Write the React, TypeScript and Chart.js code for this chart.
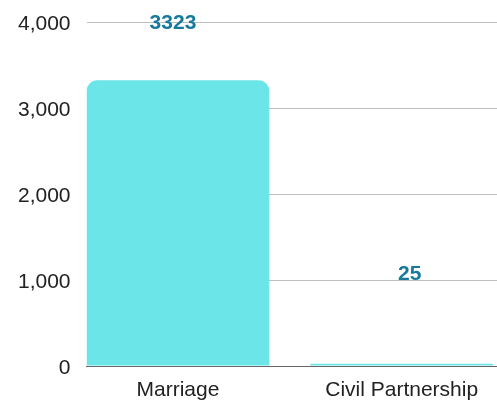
import React, { useEffect, useRef } from "react";
import { Chart, registerables } from "chart.js";

Chart.register(...registerables);

const categories = ["Marriage", "Civil Partnership"];
const counts = [3323, 25];
const yTicks = [0, 1000, 2000, 3000, 4000];

const labelPlugin = {
  id: "barValueLabels",
  afterDatasetsDraw(chart: any, _args: any, opts: any) {
    const ctx = chart.ctx;
    const meta = chart.getDatasetMeta(0);
    ctx.save();
    ctx.font = "bold 21px 'Liberation Sans', Arial, sans-serif";
    ctx.fillStyle = "#17799b";
    ctx.textAlign = "center";
    ctx.textBaseline = "middle";
    meta.data.forEach((bar: any, i: number) => {
      const dy = opts.dy[i] ?? 0;
      const dx = opts.dx[i] ?? 0;
      ctx.fillText(String(counts[i]), bar.x + dx, bar.y - dy);
    });
    ctx.restore();
  },
};

export default function App() {
  const ref = useRef<HTMLCanvasElement | null>(null);
  useEffect(() => {
    if (!ref.current) return;
    const chart = new Chart(ref.current, {
      type: "bar",
      data: {
        datasets: [
          {
            data: counts.map((v, i) => ({ x: i, y: v })),
            backgroundColor: "#6ce5e8",
            borderRadius: { topLeft: 11, topRight: 11, bottomLeft: 0, bottomRight: 0 },
            borderSkipped: "start",
            categoryPercentage: 0.9,
            barPercentage: 0.908,
          } as any,
        ],
      },
      options: {
        animation: false,
        responsive: false,
        maintainAspectRatio: false,
        layout: { padding: { left: 2, right: 0, top: 22, bottom: 0 } },
        plugins: {
          legend: { display: false },
          tooltip: { enabled: false },
          barValueLabels: { dy: [57.5, 89.5], dx: [-5, 8] },
        } as any,
        scales: {
          x: {
            type: "linear",
            offset: false,
            bounds: "data",
            grace: 0,
            min: -0.4085,
            max: 1.426,
            afterDataLimits: (scale: any) => {
              scale.min = -0.4085;
              scale.max = 1.426;
            },
            afterBuildTicks: (scale: any) => {
              scale.ticks = categories.map((_, i) => ({ value: i }));
            },
            afterFit: (scale: any) => {
              scale.height = 34;
              scale.paddingLeft = 0;
              scale.paddingRight = 0;
            },
            ticks: {
              autoSkip: false,
              maxRotation: 0,
              minRotation: 0,
              padding: 12,
              color: "#222",
              font: { family: "'Liberation Sans', Arial, sans-serif", size: 21 },
              callback: (v: any) => categories[Math.round(Number(v))] ?? "",
            },
            grid: { display: false, drawTicks: false, offset: false },
            border: { display: true, color: "#666", width: 1 },
          } as any,
          y: {
            min: 0,
            max: 4000,
            afterBuildTicks: (scale: any) => {
              scale.ticks = yTicks.map((v) => ({ value: v }));
            },
            afterFit: (scale: any) => {
              scale.paddingTop = 0;
              scale.paddingBottom = 0;
            },
            ticks: {
              padding: 16,
              labelOffset: 2,
              color: "#222",
              font: { family: "'Liberation Sans', Arial, sans-serif", size: 21 },
              callback: (v: any) => Number(v).toLocaleString("en-US"),
            },
            grid: { color: "#c0c0c0", drawTicks: false, lineWidth: 1 },
            border: { display: false },
          } as any,
        },
      },
      plugins: [labelPlugin],
    });
    return () => chart.destroy();
  }, []);
  return (
    <div style={{ position: "fixed", left: 0, top: 0, width: 497, height: 400, background: "#fff" }}>
      <canvas ref={ref} width={497} height={400} style={{ display: "block", width: 497, height: 400 }} />
    </div>
  );
}
